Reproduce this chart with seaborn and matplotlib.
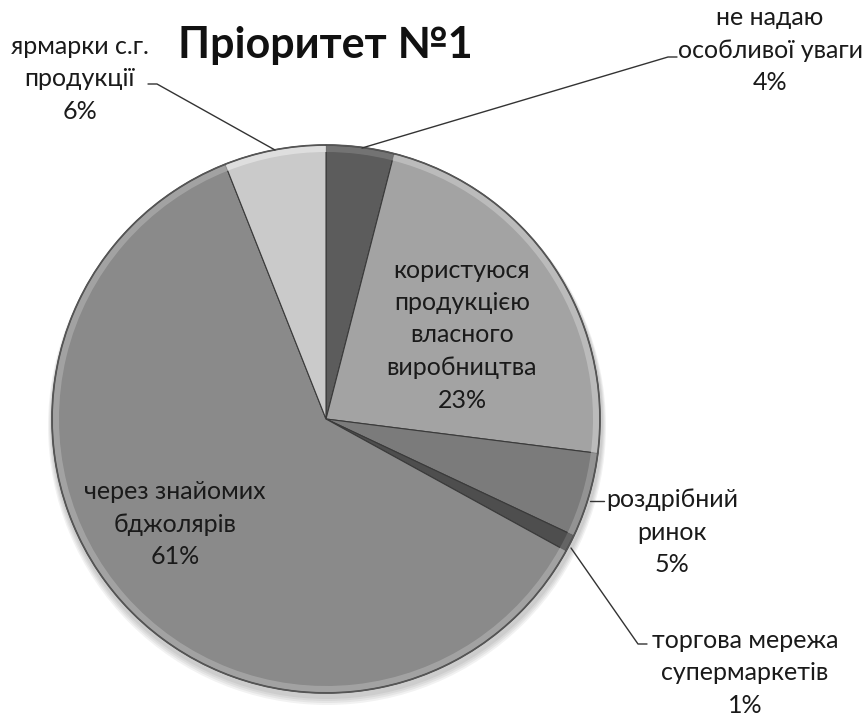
import matplotlib
matplotlib.use("Agg")
import matplotlib.pyplot as plt
import seaborn as sns
from matplotlib.patches import Circle, Wedge

sns.set_theme(style="white")
plt.rcParams["font.family"] = ["Lato", "DejaVu Sans"]

# Survey shares (percent), clockwise from 12 o'clock
categories = [
    "не надаю\nособливої уваги",
    "користуюся\nпродукцією\nвласного\nвиробництва",
    "роздрібний\nринок",
    "торгова мережа\nсупермаркетів",
    "через знайомих\nбджолярів",
    "ярмарки с.г.\nпродукції",
]
shares = [4, 23, 5, 1, 61, 6]
title = "Пріоритет №1"

colors = ["#5c5c5c", "#a3a3a3", "#7b7b7b", "#4e4e4e", "#8a8a8a", "#cacaca"]
rim = ["#7a7a7a", "#c2c2c2", "#9a9a9a", "#6a6a6a", "#a9a9a9", "#e4e4e4"]

W, H = 866, 718
fig = plt.figure(figsize=(W / 100, H / 100), dpi=100)
ax = fig.add_axes([0, 0, 1, 1])
ax.set_xlim(0, W)
ax.set_ylim(0, H)
ax.set_aspect("equal")
ax.axis("off")


def Y(py):
    return H - py


cx, cy, R = 326, Y(419), 274

# soft drop shadow under the pie
for i, a in enumerate([0.05, 0.05, 0.05, 0.05]):
    ax.add_patch(Circle((cx + 1, cy - 4 - i), R + 2 + i, color="black",
                        alpha=a, lw=0, zorder=1))

wedges, _ = ax.pie(shares, colors=colors, startangle=90, counterclock=False,
                   center=(cx, cy), radius=R, frame=True,
                   wedgeprops=dict(edgecolor="#3a3a3a", linewidth=0.8))
for w in wedges:
    w.set_zorder(2)

# bevel: lighter rim inside each wedge
total = sum(shares)
ang = 90.0
for s, c in zip(shares, rim):
    sweep = 360.0 * s / total
    ax.add_patch(Wedge((cx, cy), R - 1, ang - sweep, ang, width=6,
                       facecolor=c, edgecolor="none", alpha=0.8, zorder=3))
    ang -= sweep
ax.add_patch(Circle((cx, cy), R, fill=False, edgecolor="#555555", lw=1.2,
                    zorder=4))

ax.set_xlim(0, W)
ax.set_ylim(0, H)
ax.axis("off")

fs = 18
txt = dict(fontsize=fs, color="#1a1a1a", ha="center", va="center",
           linespacing=1.5, zorder=6)

labels = [f"{c}\n{v}%" for c, v in zip(categories, shares)]

ax.text(770, Y(50), labels[0], **txt)
ax.text(462, Y(335), labels[1], **txt)
ax.text(672, Y(532), labels[2], **txt)
ax.text(745, Y(673), labels[3], **txt)
ax.text(175, Y(524), labels[4], **txt)
ax.text(80, Y(79), labels[5], **txt)

ax.text(325, Y(45), title, fontsize=31, fontweight="bold", color="#111111",
        ha="center", va="center", zorder=6)

lk = dict(color="#333333", lw=1.0, zorder=5)
ax.plot([362, 668, 677], [Y(148), Y(57), Y(57)], **lk)
ax.plot([148, 157, 275], [Y(84), Y(84), Y(150)], **lk)
ax.plot([590, 604], [Y(501), Y(501)], **lk)
ax.plot([571, 638, 647], [Y(548), Y(644), Y(644)], **lk)

fig.savefig("out.png", dpi=100, facecolor="white")
